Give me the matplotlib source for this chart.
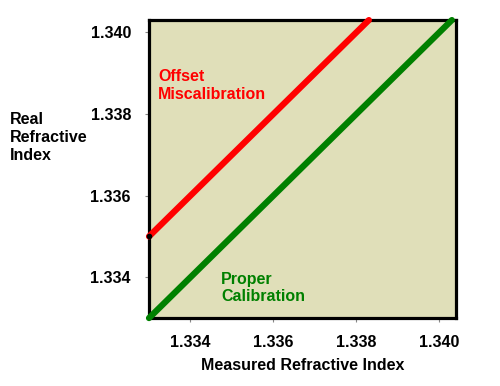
import matplotlib.pyplot as plt

plt.rcParams['font.family'] = ['Liberation Sans', 'DejaVu Sans']

proper_x = [1.333, 1.3403]
proper_y = [1.333, 1.3403]
offset_x = [1.333, 1.3383]
offset_y = [1.335, 1.3403]
ticks = [1.334, 1.336, 1.338, 1.340]
tick_labels = ['1.334', '1.336', '1.338', '1.340']

fig = plt.figure(figsize=(5, 3.86), dpi=100)
ax = fig.add_axes([0.298, 0.176, 0.614, 0.772])
ax.set_facecolor('#e0dfb9')

ax.plot(offset_x, offset_y, color='#ff0000', lw=4.5, solid_capstyle='round', clip_on=False, zorder=3)
ax.plot(proper_x, proper_y, color='#008000', lw=4.5, solid_capstyle='round', clip_on=False, zorder=3)
ax.plot(offset_x[0], offset_y[0], 'o', color='black', ms=3, clip_on=False, zorder=4)

ax.set_xlim(1.333, 1.3404)
ax.set_ylim(1.333, 1.3403)
ax.set_xticks(ticks)
ax.set_xticklabels(tick_labels)
ax.set_yticks(ticks)
ax.set_yticklabels(tick_labels)
ax.tick_params(length=3, width=0.8, color='#888888', labelsize=11.5)
ax.tick_params(axis='x', pad=9)
ax.tick_params(axis='y', pad=10)
for lab in ax.get_xticklabels() + ax.get_yticklabels():
    lab.set_fontweight('bold')
for s in ax.spines.values():
    s.set_linewidth(2.3)

ax.text(0.029, 0.835, 'Offset\nMiscalibration', transform=ax.transAxes, color='#ff0000',
        fontsize=11.5, fontweight='bold', va='top', ha='left', linespacing=1.2)
ax.text(0.235, 0.155, 'Proper\nCalibration', transform=ax.transAxes, color='#008000',
        fontsize=11.5, fontweight='bold', va='top', ha='left', linespacing=1.2)

fig.text(0.02, 0.645, 'Real\nRefractive\nIndex', fontsize=11.5, fontweight='bold',
         va='center', ha='left', linespacing=1.25)
fig.text(0.605, 0.052, 'Measured Refractive Index', fontsize=11.5, fontweight='bold',
         va='center', ha='center')

fig.savefig('out.png', dpi=100)
